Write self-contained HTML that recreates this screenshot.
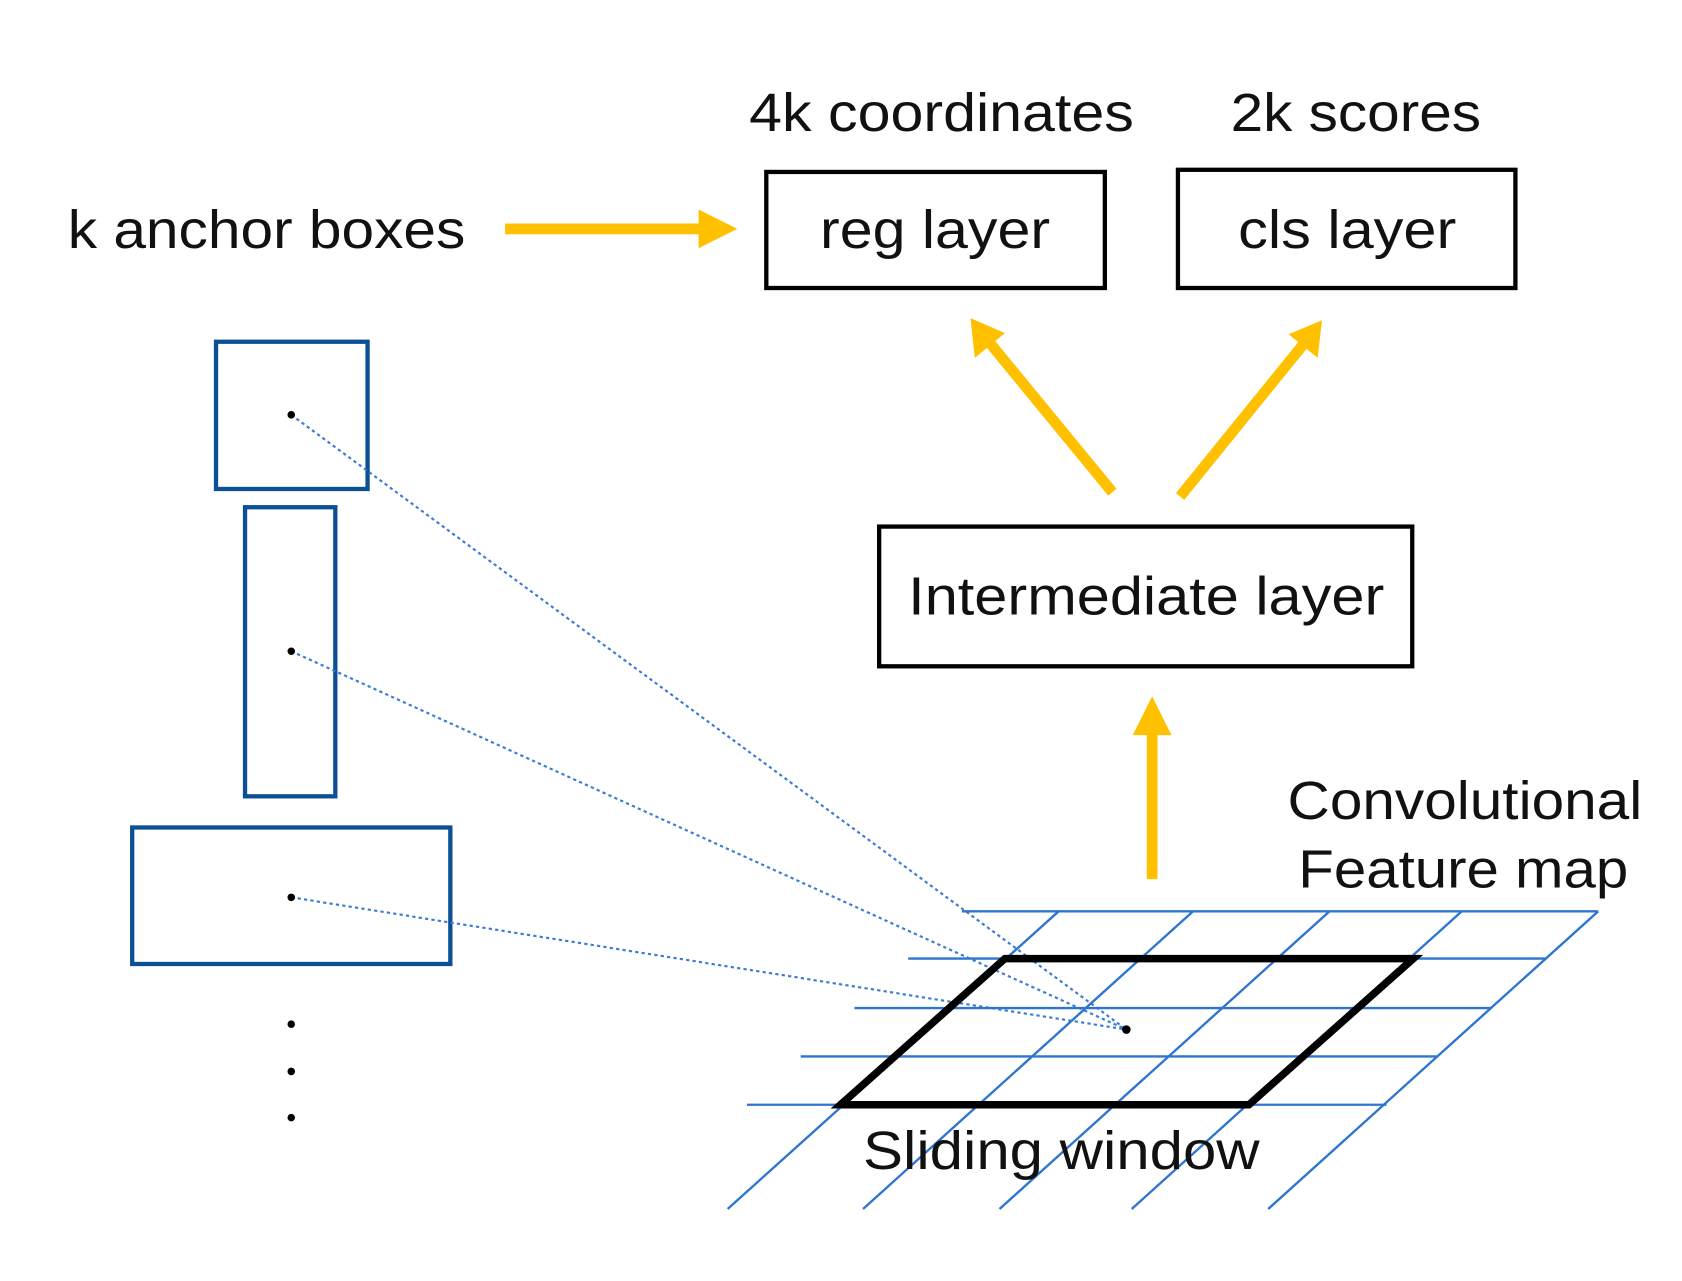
<!DOCTYPE html>
<html><head><meta charset="utf-8"><style>
html,body{margin:0;padding:0;background:#fff;}
svg{display:block;}
text{font-family:"Liberation Sans Narrow","Liberation Sans",sans-serif;fill:#111;}
</style></head><body>
<svg width="1682" height="1281" viewBox="0 0 1565 1192" preserveAspectRatio="none" xmlns="http://www.w3.org/2000/svg">
<rect width="1565" height="1192" fill="#fff"/>
<!-- texts -->
<text x="697" y="122" font-size="50" textLength="358" lengthAdjust="spacingAndGlyphs">4k coordinates</text>
<text x="1145" y="122" font-size="50" textLength="233" lengthAdjust="spacingAndGlyphs">2k scores</text>
<text x="63" y="231" font-size="50" textLength="370" lengthAdjust="spacingAndGlyphs">k anchor boxes</text>
<!-- boxes -->
<rect x="713" y="160" width="315" height="108" fill="none" stroke="#000" stroke-width="4"/>
<text x="763" y="231" font-size="50" textLength="214" lengthAdjust="spacingAndGlyphs">reg layer</text>
<rect x="1096" y="158" width="314" height="110" fill="none" stroke="#000" stroke-width="4"/>
<text x="1152" y="231" font-size="50" textLength="203" lengthAdjust="spacingAndGlyphs">cls layer</text>
<rect x="818" y="490" width="496" height="130" fill="none" stroke="#000" stroke-width="4"/>
<text x="845" y="572" font-size="50" textLength="443" lengthAdjust="spacingAndGlyphs">Intermediate layer</text>
<text x="1198" y="762" font-size="50" textLength="330" lengthAdjust="spacingAndGlyphs">Convolutional</text>
<text x="1208" y="826" font-size="50" textLength="307" lengthAdjust="spacingAndGlyphs">Feature map</text>
<!-- yellow arrows -->
<g stroke="#FFC000" stroke-width="10" fill="#FFC000">
<line x1="470" y1="213" x2="655" y2="213"/>
<line x1="1035" y1="458" x2="920" y2="318"/>
<line x1="1098" y1="462" x2="1213" y2="320"/>
<line x1="1072" y1="818" x2="1072" y2="678"/>
</g>
<g fill="#FFC000">
<polygon points="686,213 650,195 650,231"/>
<polygon points="903,296 935,310 907,333"/>
<polygon points="1230,298 1226,333 1199,311"/>
<polygon points="1072,648 1090,684 1054,684"/>
</g>
<!-- anchor boxes -->
<g fill="none" stroke="#0B4F94" stroke-width="4">
<rect x="201" y="318" width="141" height="137"/>
<rect x="228" y="472" width="84" height="269"/>
<rect x="123" y="770" width="296" height="127"/>
</g>
<!-- dotted lines -->
<g stroke="#3A7BD5" stroke-width="2" stroke-dasharray="3,3" fill="none">
<line x1="271" y1="386" x2="1048" y2="958"/>
<line x1="271" y1="606" x2="1048" y2="958"/>
<line x1="271" y1="835" x2="1048" y2="958"/>
</g>
<g fill="#000">
<circle cx="271" cy="386" r="3.5"/><circle cx="271" cy="606" r="3.5"/><circle cx="271" cy="835" r="3.5"/>
<circle cx="1048" cy="958" r="4"/>
<circle cx="271" cy="953" r="3.5"/><circle cx="271" cy="997" r="3.5"/><circle cx="271" cy="1040" r="3.5"/>
</g>
<!-- grid -->
<g stroke="#2E75D0" stroke-width="2.2">
<line x1="895" y1="848" x2="1487" y2="848"/>
<line x1="845" y1="892" x2="1438" y2="892"/>
<line x1="795" y1="938" x2="1388" y2="938"/>
<line x1="745" y1="983" x2="1338" y2="983"/>
<line x1="695" y1="1028" x2="1290" y2="1028"/>
<line x1="985" y1="848" x2="677" y2="1125"/>
<line x1="1110" y1="848" x2="803" y2="1125"/>
<line x1="1237" y1="848" x2="930" y2="1125"/>
<line x1="1360" y1="848" x2="1053" y2="1125"/>
<line x1="1487" y1="848" x2="1180" y2="1125"/>
</g>
<polygon points="935,892 1315,892 1162,1028 782,1028" fill="none" stroke="#000" stroke-width="7"/>
<text x="803" y="1088" font-size="50" textLength="369" lengthAdjust="spacingAndGlyphs">Sliding window</text>
</svg>
</body></html>
